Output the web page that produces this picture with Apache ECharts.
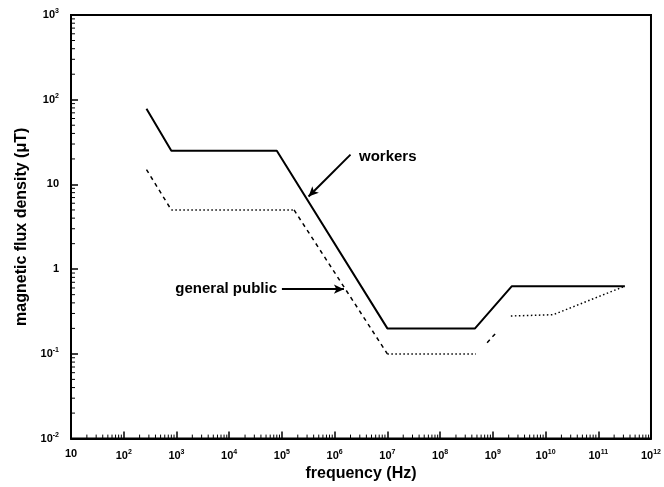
<!DOCTYPE html>
<html>
<head>
<meta charset="utf-8">
<script src="https://cdn.jsdelivr.net/npm/echarts@6/dist/echarts.min.js"></script>
<style>
  html, body { margin: 0; padding: 0; background: #fff; }
  #chart { width: 664px; height: 487px; }
</style>
</head>
<body>
<div id="chart"></div>
<script>
// frequency (Hz) / flux density (uT)
var workersFreq = [270, 800, 8e4, 1e7, 4.6e8, 2.3e9, 3.2e11];
var workersB = [78, 25, 25, 0.2, 0.2, 0.63, 0.63];

var publicFreq = [270, 800, 1.7e5, 1e7, 4.8e8, 7.8e8, 1.15e9, 2.2e9, 1.4e10, 3.2e11];
var publicB = [15, 5, 5, 0.1, 0.1, 0.135, 0.177, 0.28, 0.29, 0.63];

// annotation anchors, in data units
var workersArrow = [[2.0e6, 22.5], [3.2e5, 7.2]];
var workersText = [2.6e6, 21];
var publicArrow = [[1.0e5, 0.58], [1.5e6, 0.58]];
var publicText = [9.0e4, 0.58];

var xTicks = [10, 1e2, 1e3, 1e4, 1e5, 1e6, 1e7, 1e8, 1e9, 1e10, 1e11, 1e12];
var yTicks = [1e-2, 1e-1, 1, 10, 1e2, 1e3];

var font = 'Arial, "Liberation Sans", sans-serif';

function pairs(xs, ys, from, to) {
    var out = [];
    for (var i = from; i <= to; i++) out.push([xs[i], ys[i]]);
    return out;
}

function minorValues(ticks) {
    var out = [];
    for (var i = 0; i < ticks.length - 1; i++) {
        for (var k = 2; k <= 9; k++) out.push(ticks[i] * k);
    }
    return out;
}

function powLabel(v) {
    var e = Math.round(Math.log10(v));
    if (e === 0) return '1';
    if (e === 1) return '10';
    return '{b|10}{s|' + e + '}';
}

var richLabel = {
    b: { fontFamily: font, fontWeight: 'bold', fontSize: 11, color: '#000' },
    s: { fontFamily: font, fontWeight: 'bold', fontSize: 7, color: '#000', padding: [0, 0, 7, 0] }
};

var chart = echarts.init(document.getElementById('chart'));

var series = [];

series.push({
    name: 'workers',
    type: 'line',
    data: pairs(workersFreq, workersB, 0, workersFreq.length - 1),
    symbol: 'none',
    lineStyle: { color: '#000', width: 2 },
    markLine: {
        silent: true,
        symbol: ['none', 'arrow'],
        symbolSize: [7, 10],
        label: { show: false },
        lineStyle: { color: '#000', width: 2, type: 'solid' },
        data: [
            [{ coord: workersArrow[0] }, { coord: workersArrow[1] }],
            [{ coord: publicArrow[0] }, { coord: publicArrow[1] }]
        ]
    },
    markPoint: {
        silent: true,
        symbol: 'circle',
        symbolSize: 1,
        itemStyle: { color: 'rgba(0,0,0,0)' },
        data: [
            { coord: workersText, label: { position: 'right', formatter: 'workers' } },
            { coord: publicText, label: { position: 'left', formatter: 'general public' } }
        ],
        label: {
            show: true, distance: 2, color: '#000',
            fontFamily: font, fontWeight: 'bold', fontSize: 15
        }
    }
});

// general public: dashed on slopes, dotted on the flat parts
var dashedSegs = [[0, 1], [2, 3], [5, 6]];
var dottedSegs = [[1, 2], [3, 4], [7, 9]];
dashedSegs.forEach(function (s) {
    series.push({
        name: 'general public', type: 'line', symbol: 'none',
        data: pairs(publicFreq, publicB, s[0], s[1]),
        lineStyle: { color: '#000', width: 1.5, type: [4, 4] }
    });
});
dottedSegs.forEach(function (s) {
    series.push({
        name: 'general public', type: 'line', symbol: 'none',
        data: pairs(publicFreq, publicB, s[0], s[1]),
        lineStyle: { color: '#000', width: 1.5, type: [1.5, 2.5] }
    });
});

// log minor ticks (2..9 per decade), pointing inward
series.push({
    type: 'custom', silent: true,
    data: minorValues(xTicks).map(function (v) { return [v, yTicks[0]]; }),
    renderItem: function (params, api) {
        var p = api.coord([api.value(0), api.value(1)]);
        return { type: 'line', shape: { x1: p[0], y1: p[1], x2: p[0], y2: p[1] - 4 },
                 style: { stroke: '#000', lineWidth: 1 } };
    }
});
series.push({
    type: 'custom', silent: true,
    data: minorValues(yTicks).map(function (v) { return [xTicks[0], v]; }),
    renderItem: function (params, api) {
        var p = api.coord([api.value(0), api.value(1)]);
        return { type: 'line', shape: { x1: p[0], y1: p[1], x2: p[0] + 4, y2: p[1] },
                 style: { stroke: '#000', lineWidth: 1 } };
    }
});

var option = {
    animation: false,
    backgroundColor: '#fff',
    grid: {
        left: 71, right: 11, top: 15, bottom: 46,
        show: true, borderColor: '#000', borderWidth: 2
    },
    xAxis: {
        type: 'log', logBase: 10, min: 10, max: 1e12,
        interval: 1,
        name: 'frequency (Hz)', nameLocation: 'middle', nameGap: 24,
        nameTextStyle: { fontFamily: font, fontWeight: 'bold', fontSize: 16, color: '#000' },
        axisLine: { lineStyle: { color: '#000', width: 2 } },
        axisTick: { inside: true, length: 7, lineStyle: { color: '#000', width: 1.5 } },
        minorTick: { show: false },
        splitLine: { show: false },
        axisLabel: { margin: 10, interval: 0, hideOverlap: false, showMinLabel: true, showMaxLabel: true,
                     formatter: powLabel, rich: richLabel,
                     fontFamily: font, fontWeight: 'bold', fontSize: 11, color: '#000' }
    },
    yAxis: {
        type: 'log', logBase: 10, min: 1e-2, max: 1e3,
        interval: 1,
        name: 'magnetic flux density (\u03bcT)', nameLocation: 'middle', nameGap: 39,
        nameTextStyle: { fontFamily: font, fontWeight: 'bold', fontSize: 16, color: '#000' },
        axisLine: { lineStyle: { color: '#000', width: 2 } },
        axisTick: { inside: true, length: 7, lineStyle: { color: '#000', width: 1.5 } },
        splitLine: { show: false },
        axisLabel: { margin: 12, interval: 0, formatter: powLabel, rich: richLabel,
                     fontFamily: font, fontWeight: 'bold', fontSize: 11, color: '#000' }
    },
    series: series
};

chart.setOption(option);
</script>
</body>
</html>
